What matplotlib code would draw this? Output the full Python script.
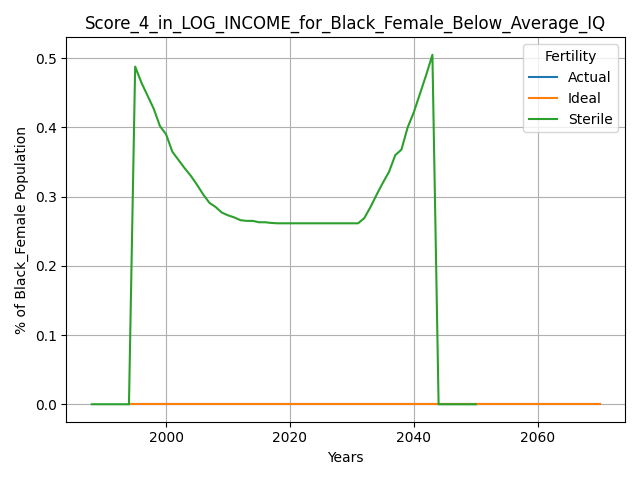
import matplotlib
matplotlib.use("Agg")
import matplotlib.pyplot as plt

years_ai = list(range(1994, 2071))
actual = [0.0] * len(years_ai)
ideal = [0.0] * len(years_ai)

years_st = list(range(1988, 2051))
sterile = ([0.0] * 7 +
           [0.488, 0.465, 0.446, 0.427, 0.402, 0.390, 0.365, 0.353, 0.341, 0.330,
            0.317, 0.303, 0.291, 0.285, 0.277, 0.273, 0.270, 0.266, 0.265, 0.265,
            0.263, 0.263, 0.262, 0.2615, 0.2615, 0.2615, 0.2615, 0.2615, 0.2615, 0.2615,
            0.2615, 0.2615, 0.2615, 0.2615, 0.2615, 0.2615, 0.2615, 0.269, 0.285, 0.303,
            0.320, 0.336, 0.360, 0.368, 0.400, 0.422, 0.449, 0.476, 0.505] +
           [0.0] * 7)

fig, ax = plt.subplots(figsize=(6.4, 4.8), dpi=100)
ax.plot(years_ai, actual, label="Actual")
ax.plot(years_ai, ideal, label="Ideal")
ax.plot(years_st, sterile, label="Sterile")
ax.set_title("Score_4_in_LOG_INCOME_for_Black_Female_Below_Average_IQ")
ax.set_xlabel("Years")
ax.set_ylabel("% of Black_Female Population")
ax.grid(True)
ax.legend(title="Fertility", loc="upper right")
fig.tight_layout()
fig.savefig("out.png")
